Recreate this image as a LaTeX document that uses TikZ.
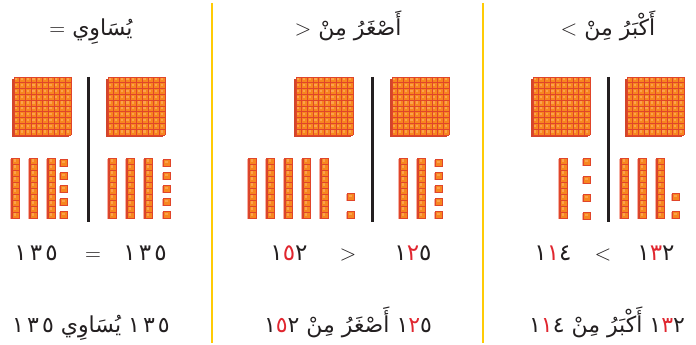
\documentclass[tikz,border=0pt]{standalone}
\usepackage{fontspec}
\usepackage{xcolor}
\TeXXeTstate=1
\newfontfamily\arabicfont[Script=Arabic]{DejaVu Sans}
\newfontfamily\digitfont[LetterSpace=14]{DejaVu Sans}
\definecolor{gold}{HTML}{FFCB05}
\definecolor{ink}{HTML}{231F20}
\definecolor{digitred}{HTML}{E0262F}
\definecolor{block}{HTML}{F7861F}
\definecolor{blocklight}{HTML}{FBA24B}
\definecolor{blockline}{HTML}{E0452A}
\definecolor{blockedge}{HTML}{D2452B}
\definecolor{blockshade}{HTML}{F6B0A3}
\newcommand\tens[1]{\textcolor{digitred}{#1}}
\newcommand\relsym[1]{{\rmfamily #1}}

\tikzset{
  % hundreds flat, ten rod and unit cube, anchored at the top left corner
  hundred/.pic={
    \fill[blockedge] (0,2) rectangle (57,60);
    \fill[block] (2,0) rectangle (59,58);
    \foreach \k in {0,...,9}{
      \foreach \m in {0,...,9}{
        \fill[blocklight] ({2+5.7*\k+1.2},{5.8*\m+1.2}) rectangle ({2+5.7*\k+3.4},{5.8*\m+3.4});
      }
    }
    \foreach \k in {0,...,10}{
      \draw[blockline,line width=0.8] ({2+5.7*\k},0) -- ({2+5.7*\k},58);
      \draw[blockline,line width=0.8] (2,{5.8*\k}) -- (59,{5.8*\k});
    }
  },
  ten/.pic={
    \fill[blockshade] (-1,1) rectangle (7,61);
    \fill[block] (0,0) rectangle (8,60);
    \fill[blockedge] (0,0) rectangle (1.6,60);
    \foreach \m in {0,...,9}
      \fill[blocklight] (2.6,{6*\m+1.3}) rectangle (5.2,{6*\m+3.6});
    \foreach \m in {1,...,9}
      \draw[blockline,line width=0.7] (0,{6*\m}) -- (8,{6*\m});
    \draw[blockline,line width=0.7] (0,0) rectangle (8,60);
  },
  one/.pic={
    \fill[blockshade] (-1,1) rectangle (6.5,8);
    \fill[block] (0,0) rectangle (7,7);
    \fill[blocklight] (2,1.6) rectangle (4.6,4.2);
    \draw[blockline,line width=0.7] (0,0) rectangle (7,7);
  }
}

\begin{document}
\begin{tikzpicture}[x=1pt,y=-1pt,
    txt/.style={font=\arabicfont\fontsize{22}{26}\selectfont,text=ink,anchor=base,inner sep=0pt},
    num/.style={txt,font=\digitfont\fontsize{23}{26}\selectfont},
    head/.style={txt,font=\arabicfont\fontsize{22}{26}\selectfont},
    divider/.style={draw=ink,line width=3pt},
    panelrule/.style={draw=gold,line width=2.5pt}]
  \useasboundingbox (0,0) rectangle (696,345);

  % Panel rules
  \draw[panelrule] (212,3) -- (212,343);
  \draw[panelrule] (483,3) -- (483,343);

  % Headers
  \node[head] (hdEqual) at (91,36) {\relsym{=}\ \beginR يُسَاوِي\endR};
  \node[head] (hdLess) at (348,36) {\relsym{>}\ \beginR أَصْغَرُ مِنْ\endR};
  \node[head] (hdMore) at (608,36) {\relsym{<}\ \beginR أَكْبَرُ مِنْ\endR};

  % Equal: 135 and 135
  \pic at (12,77) {hundred};
  \pic at (106,77) {hundred};
  \draw[divider] (88,77) -- (88,222);
  \foreach \x in {11,29,47,108,126,144} \pic at (\x,158) {ten};
  \foreach \y in {159,172,185,198,211} {
    \pic at (60,\y) {one};
    \pic at (163,\y) {one};
  }

  % Less: 152 and 125
  \pic at (294,77) {hundred};
  \pic at (390,77) {hundred};
  \draw[divider] (372,77) -- (372,222);
  \foreach \x in {248,266,284,302,320,399,417} \pic at (\x,158) {ten};
  \foreach \y in {193,211} \pic at (347,\y) {one};
  \foreach \y in {159,172,185,198,211} \pic at (435,\y) {one};

  % More: 114 and 132
  \pic at (531,77) {hundred};
  \pic at (625,77) {hundred};
  \draw[divider] (608,77) -- (608,222);
  \foreach \x in {559,620,638,656} \pic at (\x,158) {ten};
  \foreach \y in {158,176,194,212} \pic at (583,\y) {one};
  \foreach \y in {193,211} \pic at (672,\y) {one};

  % Comparisons
  \node[num] (eqLeft) at (36,260) {١٣٥};
  \node[txt] (eqSign) at (93,260) {\relsym{=}};
  \node[num] (eqRight) at (145,260) {١٣٥};

  \node[num] (lessLeft) at (289,260) {١\tens{٥}٢};
  \node[txt] (lessSign) at (348,260) {\relsym{>}};
  \node[num] (lessRight) at (413,260) {١\tens{٢}٥};

  \node[num] (moreLeft) at (553,260) {١\tens{١}٤};
  \node[txt] (moreSign) at (603,260) {\relsym{<}};
  \node[num] (moreRight) at (656,260) {١\tens{٣}٢};

  % Sentences
  \node[txt] (sentEqual) at (91,332)
    {{\digitfont ١٣٥}\ \beginR يُسَاوِي\endR\ {\digitfont ١٣٥}};
  \node[txt] (sentLess) at (348,332)
    {{\digitfont ١\tens{٥}٢}\ \beginR أَصْغَرُ مِنْ\endR\ {\digitfont ١\tens{٢}٥}};
  \node[txt] (sentMore) at (607,332)
    {{\digitfont ١\tens{١}٤}\ \beginR أَكْبَرُ مِنْ\endR\ {\digitfont ١\tens{٣}٢}};
\end{tikzpicture}
\end{document}
